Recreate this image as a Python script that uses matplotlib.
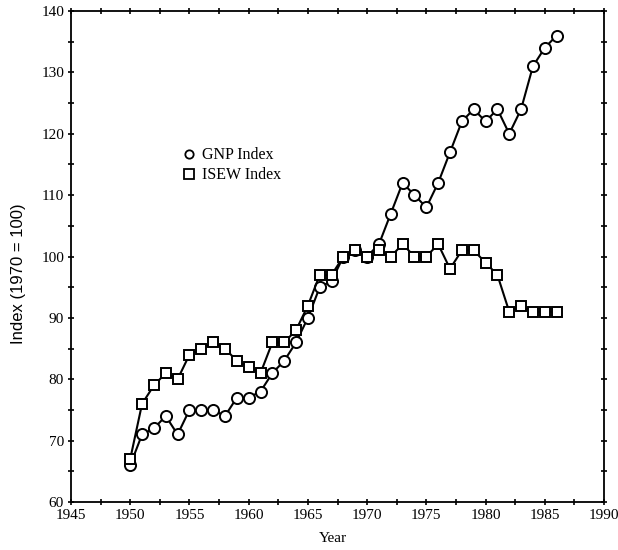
import matplotlib
matplotlib.use("Agg")
import matplotlib.pyplot as plt
from matplotlib.lines import Line2D
from matplotlib.ticker import MultipleLocator

years = list(range(1950, 1987))
gnp = [66, 71, 72, 74, 71, 75, 75, 75, 74, 77, 77, 78, 81, 83, 86, 90, 95, 96,
       100, 101, 100, 102, 107, 112, 110, 108, 112, 117, 122, 124, 122, 124, 120,
       124, 131, 134, 136]
isew = [67, 76, 79, 81, 80, 84, 85, 86, 85, 83, 82, 81, 86, 86, 88, 92, 97, 97,
        100, 101, 100, 101, 100, 102, 100, 100, 102, 98, 101, 101, 99, 97, 91,
        92, 91, 91, 91]
x_ticks = list(range(1945, 1991, 5))
y_ticks = list(range(60, 141, 10))

serif = ["Liberation Serif", "DejaVu Serif"]
sans = ["Liberation Sans", "DejaVu Sans"]

fig = plt.figure(figsize=(6.18, 5.5), dpi=100)
ax = fig.add_axes([71/618, 1 - 502/550, 533/618, 491/550])

lw = 1.5
ax.plot(years, gnp, color="black", lw=lw, marker="o", markersize=8,
        markerfacecolor="white", markeredgecolor="black", markeredgewidth=1.4, zorder=3)
ax.plot(years, isew, color="black", lw=lw, marker="s", markersize=7.5,
        markerfacecolor="white", markeredgecolor="black", markeredgewidth=1.4, zorder=4)

ax.set_xlim(1945, 1990)
ax.set_ylim(60, 140)
ax.set_xticks(x_ticks)
ax.set_yticks(y_ticks)
ax.xaxis.set_minor_locator(MultipleLocator(2.5))
ax.yaxis.set_minor_locator(MultipleLocator(5))
ax.tick_params(which="both", direction="inout", length=4, width=1.2,
               top=True, right=True, labelsize=11, pad=3)
for lab in ax.get_xticklabels() + ax.get_yticklabels():
    lab.set_fontfamily(serif)
for sp in ax.spines.values():
    sp.set_linewidth(1.3)

ax.text((123 - 71) / 533, (502 - 63) / 491, "United States", fontsize=20.5,
        family=sans, ha="left", va="baseline")

fig.text(19 / 618, 1 - 274 / 550, "Index (1970 = 100)", rotation=90,
         fontsize=12, family=sans, ha="center", va="center")
fig.text(333 / 618, 1 - 539 / 550, "Year", fontsize=11, family=serif,
         ha="center", va="center")

handles = [
    Line2D([], [], ls="none", marker="o", markersize=6, markerfacecolor="white",
           markeredgecolor="black", markeredgewidth=1.3, label="GNP Index"),
    Line2D([], [], ls="none", marker="s", markersize=6.5, markerfacecolor="white",
           markeredgecolor="black", markeredgewidth=1.3, label="ISEW Index"),
]
ax.legend(handles=handles, loc="center left", bbox_to_anchor=(0.191, 0.686),
          frameon=False, borderpad=0, handlelength=1.0, handletextpad=0.3,
          labelspacing=0.25, prop={"family": serif, "size": 11.5})

fig.savefig("out.png", dpi=100)
